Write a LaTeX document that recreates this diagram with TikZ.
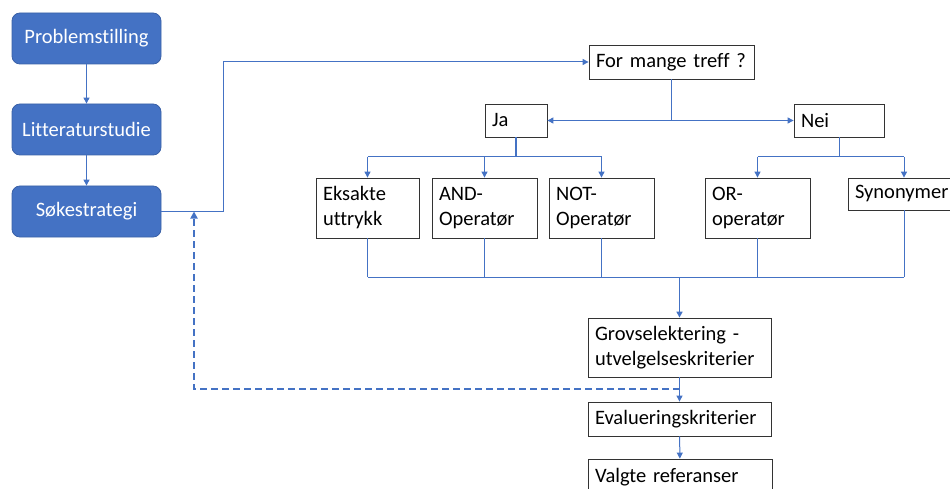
\documentclass[tikz,border=0pt]{standalone}
\usepackage{fontspec}
\setmainfont[Ligatures=NoCommon]{Carlito}
\usetikzlibrary{arrows.meta}
\definecolor{accent}{HTML}{4472C4}
\begin{document}
\begin{tikzpicture}[x=1pt,y=-1pt,
  font=\fontsize{20.5}{25}\selectfont,
  phase/.style={draw=accent!85!black, fill=accent, rounded corners=8pt, text=white,
    minimum width=149pt, minimum height=51pt, line width=0.8pt, inner sep=0pt},
  box/.style={draw=black!80, line width=0.8pt, fill=white, inner xsep=7pt, inner ysep=0pt, align=left},
  link/.style={draw=accent, line width=1pt},
  bold link/.style={draw=accent, line width=1.6pt},
  tip/.style={-{Triangle[length=6pt,width=6pt]}},
  back/.style={draw=accent, line width=2pt, dash pattern=on 7pt off 4pt,
    -{Triangle[length=7pt,width=7pt]}}
]
\useasboundingbox (0,0) rectangle (950,489);

% process phases on the left
\node[phase] (prob) at (86.5,38.5) {Problemstilling};
\node[phase] (lit)  at (86.5,129.5) {Litteraturstudie};
\node[phase] (sok)  at (86.5,211.5) {Søkestrategi};

% decision and branches
\node[box, text width=151pt, minimum height=34pt] (q)   at (671.5,62)   {For mange treff ?};
\node[box, text width=48pt,  minimum height=33pt] (ja)  at (516,120.5)  {Ja};
\node[box, text width=76pt,  minimum height=33pt] (nei) at (839,120.5)  {Nei};

\node[box, text width=89pt, minimum height=60pt] (eks) at (367.5,208) {Eksakte\\uttrykk};
\node[box, text width=91pt, minimum height=60pt] (and) at (484.5,208) {AND-\\Operatør};
\node[box, text width=91pt, minimum height=60pt] (not) at (601.5,208) {NOT-\\Operatør};
\node[box, text width=91pt, minimum height=60pt] (or)  at (757.5,208) {OR-\\operatør};
\node[box, text width=98pt, minimum height=32pt] (syn) at (904,194)   {Synonymer};

% selection steps
\node[box, text width=169pt, minimum height=59pt] (grov)  at (679.5,347.5) {Grovselektering -\\utvelgelseskriterier};
\node[box, text width=169pt, minimum height=34pt] (eval)  at (679.5,419)   {Evalueringskriterier};
\node[box, text width=170pt, minimum height=36pt] (valg)  at (680,477)     {Valgte referanser};

% helper points
\coordinate (ret)   at (194,211.5);
\coordinate (qsplit) at (671.5,120.5);
\coordinate (jabus) at (516,157);
\coordinate (neibus) at (839,157);
\coordinate (merge) at (679.5,277);
\coordinate (fb)    at (679.5,389);

% left column
\draw[link,tip] (prob) -- (lit);
\draw[link,tip] (lit) -- (sok);
\draw[link,tip] (sok.east) -- ++(62,0) |- (q.west);

% yes / no split
\draw[link] (q.south) -- (qsplit);
\draw[link,tip] (qsplit) -- (ja.east);
\draw[link,tip] (qsplit) -- (nei.west);

% yes branch
\draw[bold link] (ja.south) -- (jabus);
\draw[link] (eks.north |- jabus) -- (not.north |- jabus);
\draw[link,tip] (eks.north |- jabus) -- (eks.north);
\draw[link,tip] (and.north |- jabus) -- (and.north);
\draw[link,tip] (not.north |- jabus) -- (not.north);

% no branch
\draw[link] (nei.south) -- (neibus);
\draw[link] (or.north |- neibus) -- (syn.north |- neibus);
\draw[link,tip] (or.north |- neibus) -- (or.north);
\draw[link,tip] (syn.north |- neibus) -- (syn.north);

% collecting bus
\draw[link] (eks.south) -- (eks.south |- merge);
\draw[link] (and.south) -- (and.south |- merge);
\draw[link] (not.south) -- (not.south |- merge);
\draw[link] (or.south)  -- (or.south |- merge);
\draw[link] (syn.south) -- (syn.south |- merge);
\draw[link] (eks.south |- merge) -- (syn.south |- merge);
\draw[bold link,tip] (merge) -- (grov.north);

% selection chain
\draw[link,tip] (grov) -- (eval);
\draw[link,tip] (eval) -- (valg);

% feedback to search strategy
\draw[back] (fb) -| (ret);
\end{tikzpicture}
\end{document}
